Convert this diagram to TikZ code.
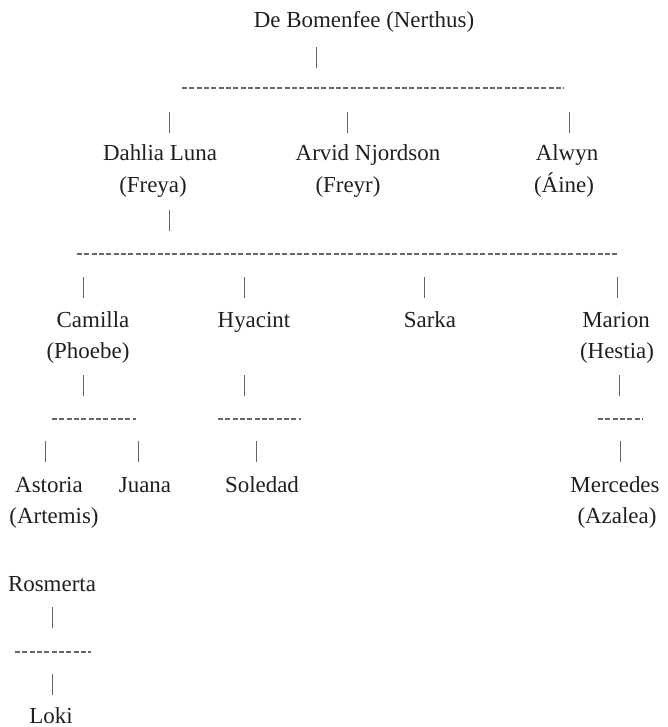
\documentclass[tikz,border=0pt]{standalone}
\usepackage{fontspec}
\setmainfont{Liberation Serif}
\usetikzlibrary{calc}

\begin{document}
\begin{tikzpicture}[x=0.75pt,y=-0.75pt,
        person/.style={inner sep=0pt, anchor=base, text=black!88, font=\fontsize{17.2}{20}\selectfont},
        bar/.style={draw=black!60, line width=0.7pt},
        dashrow/.style={draw=black!60, line width=0.85pt, dash pattern=on 3.7pt off 1.8pt}]

        % page frame
        \useasboundingbox (0,0) rectangle (667,727);

        % Bar macro:
        % #1 = name, #2 = x, #3 = y-top
        \newcommand{\famline}[3]{%
            \coordinate (#1-t) at (#2,#3);
            \coordinate (#1-b) at (#2,#3+21);
            \draw[bar] (#1-t) -- (#1-b);
        }

        % Dash row macro:
        % #1 = name, #2 = x-left, #3 = x-right, #4 = y
        \newcommand{\famrow}[4]{%
            \coordinate (#1-l) at (#2,#4);
            \coordinate (#1-r) at (#3,#4);
            \draw[dashrow] (#1-l) -- (#1-r);
        }

        % generation 0
        \node[person] (nerthus) at (364,28) {De Bomenfee (Nerthus)};
        \famline{b0}{316}{47}
        \famrow{r0}{182}{564}{88}

        % generation 1
        \foreach \x/\k in {169/1,347/2,569/3}{
            \famline{b1\k}{\x}{112}
        }
        \node[person] (dahlia) at (160,161) {Dahlia Luna};
        \node[person] (arvid)  at (368,161) {Arvid Njordson};
        \node[person] (alwyn)  at (567,161) {Alwyn};
        \node[person] (freya)  at (153,193) {(Freya)};
        \node[person] (freyr)  at (348,193) {(Freyr)};
        \node[person] (aine)   at (564,193) {(Áine)};
        \famline{b1d}{169}{210}
        \famrow{r1}{77}{617}{254}

        % generation 2
        \foreach \x/\k in {83/1,244/2,424/3,617/4}{
            \famline{b2\k}{\x}{277}
        }
        \node[person] (camilla) at (93,327)  {Camilla};
        \node[person] (hyacint) at (254,327) {Hyacint};
        \node[person] (sarka)   at (430,327) {Sarka};
        \node[person] (marion)  at (616,327) {Marion};
        \node[person] (phoebe)  at (88,358)  {(Phoebe)};
        \node[person] (hestia)  at (617,358) {(Hestia)};
        \foreach \x/\k in {83/1,244/2,619/4}{
            \famline{b2d\k}{\x}{375}
        }
        \famrow{r21}{52}{136}{419}
        \famrow{r22}{218}{301}{419}
        \famrow{r24}{598}{643}{419}

        % generation 3
        \foreach \x/\k in {45/1,138/2,256/3,620/4}{
            \famline{b3\k}{\x}{441}
        }
        \node[person] (astoria)  at (49,492)  {Astoria};
        \node[person] (juana)    at (145,492) {Juana};
        \node[person] (soledad)  at (262,492) {Soledad};
        \node[person] (mercedes) at (615,492) {Mercedes};
        \node[person] (artemis)  at (54,523)  {(Artemis)};
        \node[person] (azalea)   at (617,523) {(Azalea)};

        % separate branch
        \node[person] (rosmerta) at (52,591) {Rosmerta};
        \famline{b4}{52}{607}
        \famrow{r4}{15}{91}{652}
        \famline{b5}{52}{674}
        \node[person] (loki) at (51,723) {Loki};
\end{tikzpicture}
\end{document}
